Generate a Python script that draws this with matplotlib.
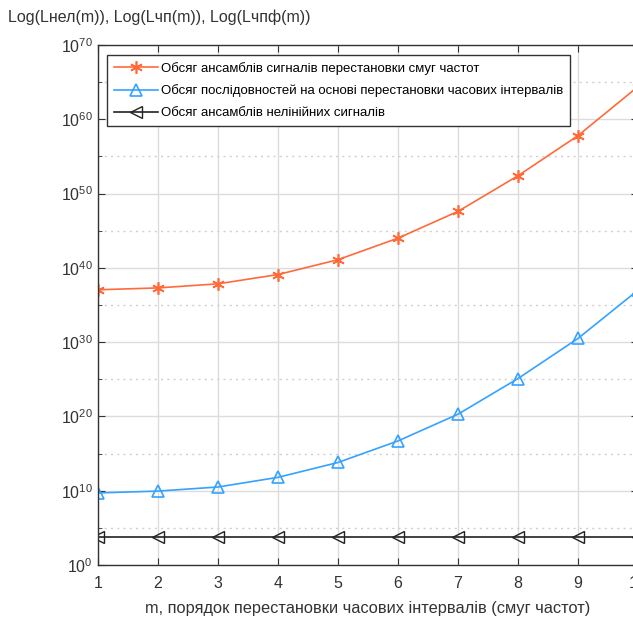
import numpy as np
import matplotlib
matplotlib.use('Agg')
import matplotlib.pyplot as plt
from matplotlib.ticker import FixedLocator, LogFormatterSciNotation

plt.rcParams['font.family'] = ['Liberation Sans', 'DejaVu Sans']
plt.rcParams['mathtext.default'] = 'regular'

# data (log10 of values)
m = [1, 2, 3, 4, 5, 6, 7, 8, 9, 10]
log_freq = [37.05, 37.3, 37.85, 39.1, 41.1, 44.0, 47.6, 52.4, 57.8, 64.4]
log_time = [9.7, 9.95, 10.5, 11.8, 13.8, 16.7, 20.3, 25.1, 30.5, 37.0]
log_nonlin = [3.75] * 10

label_freq = 'Обсяг ансамблів сигналів перестановки смуг частот'
label_time = 'Обсяг послідовностей на основі перестановки часових інтервалів'
label_nonlin = 'Обсяг ансамблів нелінійних сигналів'

fig = plt.figure(figsize=(6.33, 6.26), dpi=100)
ax = fig.add_axes([98 / 633, 61 / 626, 540 / 633, 520 / 626])

ax.plot(m, 10.0 ** np.array(log_freq), color='#ff6a3a', lw=1.2,
        marker=(6, 2, 0), ms=9, mew=1.2, label=label_freq)
ax.plot(m, 10.0 ** np.array(log_time), color='#35a2ff', lw=1.2,
        marker='^', ms=8, mfc='none', mew=1.2, label=label_time)
ax.plot(m, 10.0 ** np.array(log_nonlin), color='#222222', lw=1.2,
        marker='<', ms=8, mfc='none', mew=1.0, label=label_nonlin)

ax.set_yscale('log')
ax.set_ylim(1, 1e70)
ax.set_xlim(1, 10)
ax.set_xticks(m)
ax.yaxis.set_major_locator(FixedLocator([10.0 ** k for k in range(0, 71, 10)]))
ax.yaxis.set_minor_locator(FixedLocator([10.0 ** k for k in range(5, 70, 10)]))
ax.yaxis.set_major_formatter(LogFormatterSciNotation())
ax.yaxis.set_minor_formatter(plt.NullFormatter())

ax.grid(True, which='major', color='#dcdcdc', lw=1.0, ls='-')
ax.grid(True, which='minor', axis='y', color='#d0d0d0', lw=1.0, ls=(0, (1.5, 3)))
ax.set_axisbelow(True)

ax.tick_params(which='both', direction='in', top=True, right=True,
               labelsize=11.5, colors='#333333', length=5)
ax.tick_params(which='minor', length=3)
ax.tick_params(axis='x', pad=8)
for s in ax.spines.values():
    s.set_color('#333333')
    s.set_linewidth(1.0)

ax.set_xlabel('m, порядок перестановки часових інтервалів (смуг частот)',
              fontsize=11.8, color='#333333', labelpad=7)
fig.text(8 / 633, 1 - 17 / 626, 'Log(Lнел(m)), Log(Lчп(m)), Log(Lчпф(m))',
         fontsize=11.5, color='#333333', va='center', ha='left')

leg = ax.legend(loc='upper left', bbox_to_anchor=(9 / 540, 1 - 10 / 520),
                fontsize=9.5, frameon=True, fancybox=False, framealpha=1,
                edgecolor='#333333', handlelength=3.4, borderpad=0.5,
                labelspacing=0.75, handletextpad=0.2, borderaxespad=0)
leg.get_frame().set_linewidth(1.0)

fig.savefig('out.png', dpi=100)
